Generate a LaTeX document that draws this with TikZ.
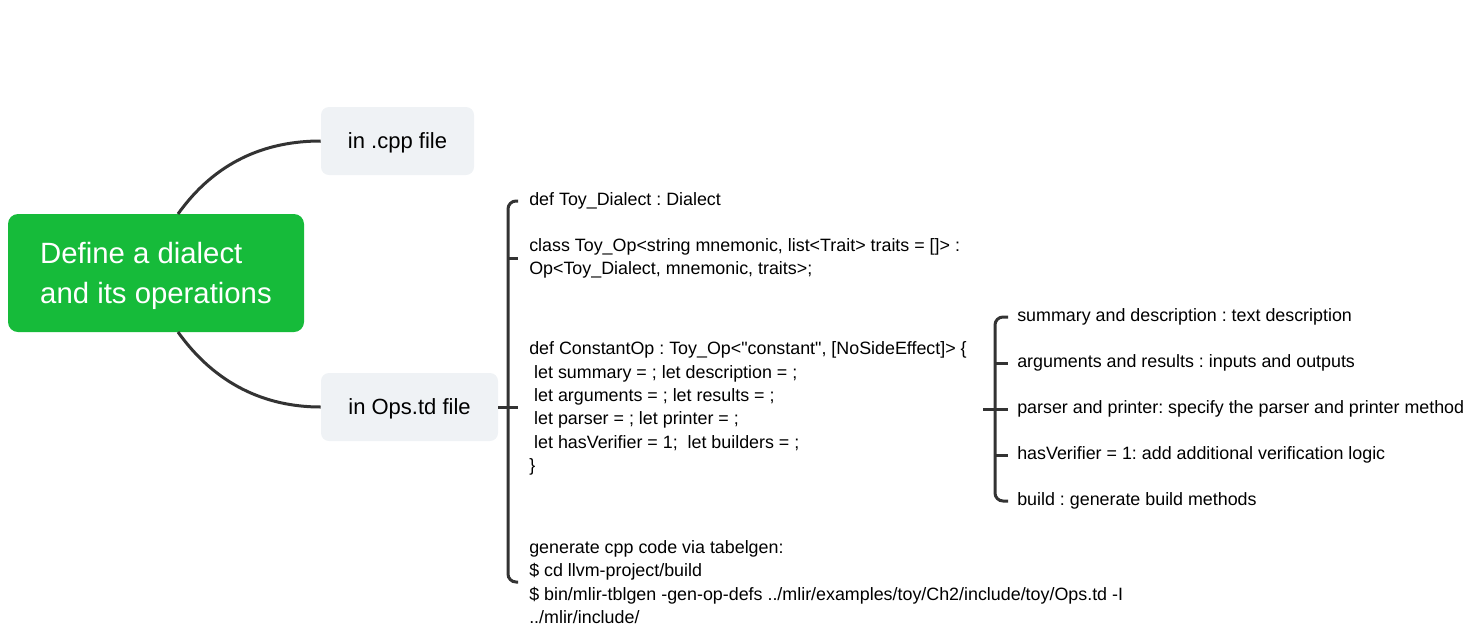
\documentclass[tikz,border=0pt]{standalone}
\usepackage{fontspec}
\setmainfont{Liberation Sans}
\definecolor{maingreen}{RGB}{22,187,58}
\definecolor{nodegray}{RGB}{239,242,245}
\definecolor{linec}{RGB}{51,51,51}
\begin{document}
\frenchspacing
\begin{tikzpicture}[x=0.75pt,y=-0.75pt,
  conn/.style={draw=linec, line width=2.25pt},
  brk/.style={draw=linec, line width=2.25pt},
  subnode/.style={fill=nodegray, rounded corners=6pt, minimum height=51pt, font=\fontsize{16.5}{20}\selectfont, inner sep=0pt, text depth=0pt},
  item/.style={anchor=west, align=left, inner sep=0pt, font=\fontsize{13.4}{17.5}\selectfont\frenchspacing},
]
\useasboundingbox (0,0) rectangle (1473,633);
\node[fill=maingreen, rounded corners=7.5pt, minimum width=222pt, minimum height=88.5pt, text=white, align=left, font=\fontsize{22}{30}\selectfont, inner sep=0pt, text depth=0pt] (main) at (156,273) {Define a dialect\\and its operations};
\node[subnode, minimum width=114.75pt] (cpp) at (397.5,141) {in .cpp file};
\node[subnode, minimum width=132.75pt] (ops) at (409.5,407) {in Ops.td file};
\coordinate (mt) at (178,214);
\coordinate (mb) at (178,332);
\draw[conn] (mt) .. controls (215,162) and (265,141) .. (cpp.west);
\draw[conn] (mb) .. controls (215,384) and (265,407) .. (ops.west);

\node[item] (t1) at (529,201) {def Toy\_Dialect : Dialect};
\node[item] (t2) at (529,258.5) {class Toy\_Op<string mnemonic, list<Trait> traits = []> :\\Op<Toy\_Dialect, mnemonic, traits>;};
\node[item] (t3) at (529,408.5) {def ConstantOp : Toy\_Op<\textquotedbl constant\textquotedbl, [NoSideEffect]> \{\\\ let summary = ; let description = ;\\\ let arguments = ; let results = ;\\\ let parser = ; let printer = ;\\\ let hasVerifier = 1;\ \ let builders = ;\\\}};
\node[item] (t4) at (529,582) {generate cpp code via tabelgen:\\\$ cd llvm-project/build\\\$ bin/mlir-tblgen -gen-op-defs ../mlir/examples/toy/Ch2/include/toy/Ops.td -I\\../mlir/include/};

\draw[brk, rounded corners=6pt] ([xshift=-8.25pt]t1.west) -- ++(-7.5pt,0) |- ([xshift=-8.25pt]t4.west);
\draw[brk] ([xshift=-15.75pt]t2.west) -- ([xshift=-8.25pt]t2.west);
\draw[brk] (ops.east) -- ([xshift=-8.25pt]ops.east -| t3.west);

\node[item] (s1) at (1017,317) {summary and description : text description};
\node[item] (s2) at (1017,363) {arguments and results : inputs and outputs};
\node[item] (s3) at (1017,409) {parser and printer: specify the parser and printer method};
\node[item] (s4) at (1017,455) {hasVerifier = 1: add additional verification logic};
\node[item] (s5) at (1017,501) {build : generate build methods};

\draw[brk, rounded corners=6pt] ([xshift=-6.75pt]s1.west) -- ++(-9.75pt,0) |- ([xshift=-6.75pt]s5.west);
\draw[brk] ([xshift=-16.5pt]s2.west) -- ([xshift=-6.75pt]s2.west);
\draw[brk] ([xshift=-16.5pt]s4.west) -- ([xshift=-6.75pt]s4.west);
\draw[brk] ([xshift=-25.5pt]s3.west) -- ([xshift=-6.75pt]s3.west);
\end{tikzpicture}
\end{document}
